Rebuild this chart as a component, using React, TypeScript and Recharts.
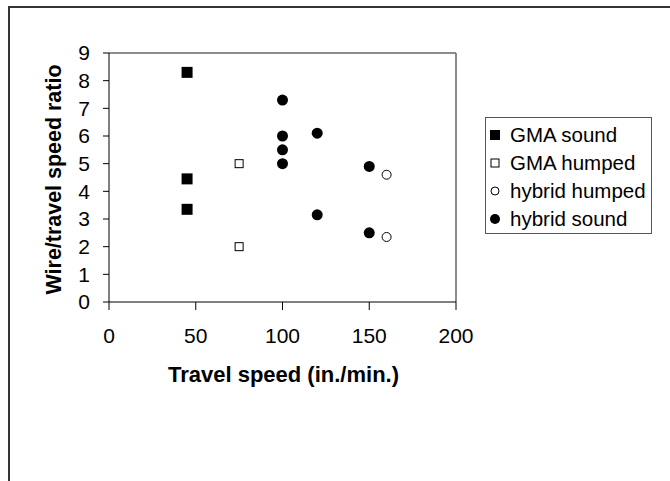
import React from 'react';
import { ScatterChart, Scatter, XAxis, YAxis, Legend, ReferenceLine } from 'recharts';

const gmaSound = [
  { speed: 45, ratio: 8.3 },
  { speed: 45, ratio: 4.45 },
  { speed: 45, ratio: 3.35 },
];
const gmaHumped = [
  { speed: 75, ratio: 5.0 },
  { speed: 75, ratio: 2.0 },
];
const hybridHumped = [
  { speed: 160, ratio: 4.6 },
  { speed: 160, ratio: 2.35 },
];
const hybridSound = [
  { speed: 100, ratio: 7.3 },
  { speed: 100, ratio: 6.0 },
  { speed: 100, ratio: 5.5 },
  { speed: 100, ratio: 5.0 },
  { speed: 120, ratio: 6.1 },
  { speed: 120, ratio: 3.15 },
  { speed: 150, ratio: 4.9 },
  { speed: 150, ratio: 2.5 },
];
const xTicks = [0, 50, 100, 150, 200];
const yTicks = [0, 1, 2, 3, 4, 5, 6, 7, 8, 9];

const FONT = '"Liberation Sans", Arial, sans-serif';

const FilledSquare = (p: any) => <rect x={p.cx - 5.5} y={p.cy - 5.5} width={11} height={11} fill="#000" />;
const OpenSquare = (p: any) => (
  <rect x={p.cx - 4} y={p.cy - 4} width={8} height={8} fill="#fff" stroke="#000" strokeWidth={1} />
);
const OpenCircle = (p: any) => <circle cx={p.cx} cy={p.cy} r={4.5} fill="#fff" stroke="#000" strokeWidth={1} />;
const FilledCircle = (p: any) => <circle cx={p.cx} cy={p.cy} r={5.5} fill="#000" />;

const legendItems = [
  { name: 'GMA sound', icon: <rect x={1} y={1} width={10} height={10} fill="#000" /> },
  { name: 'GMA humped', icon: <rect x={2} y={2} width={8} height={8} fill="#fff" stroke="#000" /> },
  { name: 'hybrid humped', icon: <circle cx={6} cy={6} r={4} fill="#fff" stroke="#000" /> },
  { name: 'hybrid sound', icon: <circle cx={6} cy={6} r={5} fill="#000" /> },
];

const LegendBox = () => (
  <div
    style={{
      border: '1px solid #555',
      background: '#fff',
      width: 167,
      height: 117,
      boxSizing: 'border-box',
      padding: '3px 0 0 3px',
      fontFamily: FONT,
      fontSize: 20.5,
      color: '#000',
    }}
  >
    {legendItems.map((it) => (
      <div key={it.name} style={{ display: 'flex', alignItems: 'center', height: 28, whiteSpace: 'nowrap' }}>
        <svg width={12} height={12} style={{ marginRight: 9 }}>
          {it.icon}
        </svg>
        <span>{it.name}</span>
      </div>
    ))}
  </div>
);

const YTitle = (props: any) => {
  const { viewBox } = props;
  const cy = viewBox.y + viewBox.height / 2 + 2;
  const cx = 54;
  return (
    <text
      x={cx}
      y={cy}
      transform={`rotate(-90 ${cx} ${cy})`}
      textAnchor="middle"
      dominantBaseline="central"
      fontFamily={FONT}
      fontWeight="bold"
      fontSize={21.5}
      textLength={230}
      lengthAdjust="spacingAndGlyphs"
      fill="#000"
    >
      Wire/travel speed ratio
    </text>
  );
};

const XTitle = (props: any) => {
  const { viewBox } = props;
  const cx = viewBox.x + viewBox.width / 2 + 1;
  return (
    <text
      x={cx}
      y={382}
      textAnchor="middle"
      fontFamily={FONT}
      fontWeight="bold"
      fontSize={22}
      fill="#000"
    >
      Travel speed (in./min.)
    </text>
  );
};

export default function App() {
  return (
    <div style={{ position: 'absolute', left: 0, top: 0, width: 670, height: 481, overflow: 'hidden', background: '#fff' }}>
      <div
        style={{
          position: 'absolute',
          left: 8,
          top: 6,
          width: 720,
          height: 520,
          borderLeft: '2px solid #333',
          borderTop: '2px solid #333',
        }}
      />
      <div style={{ position: 'absolute', left: 0, top: 0 }}>
        <ScatterChart width={670} height={481} margin={{ top: 53, right: 214, bottom: 119, left: 0 }}>
          <XAxis
            type="number"
            dataKey="speed"
            domain={[0, 200]}
            ticks={xTicks}
            interval={0}
            height={60}
            axisLine={{ stroke: '#000', strokeWidth: 1 }}
            tickLine={{ stroke: '#000' }}
            tickSize={8}
            tickMargin={18}
            tick={{ fill: '#000', fontSize: 21, fontFamily: FONT }}
            label={<XTitle />}
          />
          <YAxis
            type="number"
            dataKey="ratio"
            domain={[0, 9]}
            ticks={yTicks}
            interval={0}
            width={109}
            axisLine={{ stroke: '#000', strokeWidth: 1 }}
            tickLine={{ stroke: '#000' }}
            tickSize={6}
            tickMargin={13}
            tick={{ fill: '#000', fontSize: 21, fontFamily: FONT }}
            label={<YTitle />}
          />
          <ReferenceLine y={9} stroke="#666" strokeWidth={1.5} />
          <ReferenceLine x={200} stroke="#666" strokeWidth={1.5} />
          <Scatter name="GMA sound" data={gmaSound} shape={FilledSquare} isAnimationActive={false} />
          <Scatter name="GMA humped" data={gmaHumped} shape={OpenSquare} isAnimationActive={false} />
          <Scatter name="hybrid humped" data={hybridHumped} shape={OpenCircle} isAnimationActive={false} />
          <Scatter name="hybrid sound" data={hybridSound} shape={FilledCircle} isAnimationActive={false} />
          <Legend
            layout="vertical"
            align="center"
            verticalAlign="middle"
            content={<LegendBox />}
            wrapperStyle={{ left: 485, top: 117, width: 167, height: 117, right: 'auto', bottom: 'auto' }}
          />
        </ScatterChart>
      </div>
    </div>
  );
}
